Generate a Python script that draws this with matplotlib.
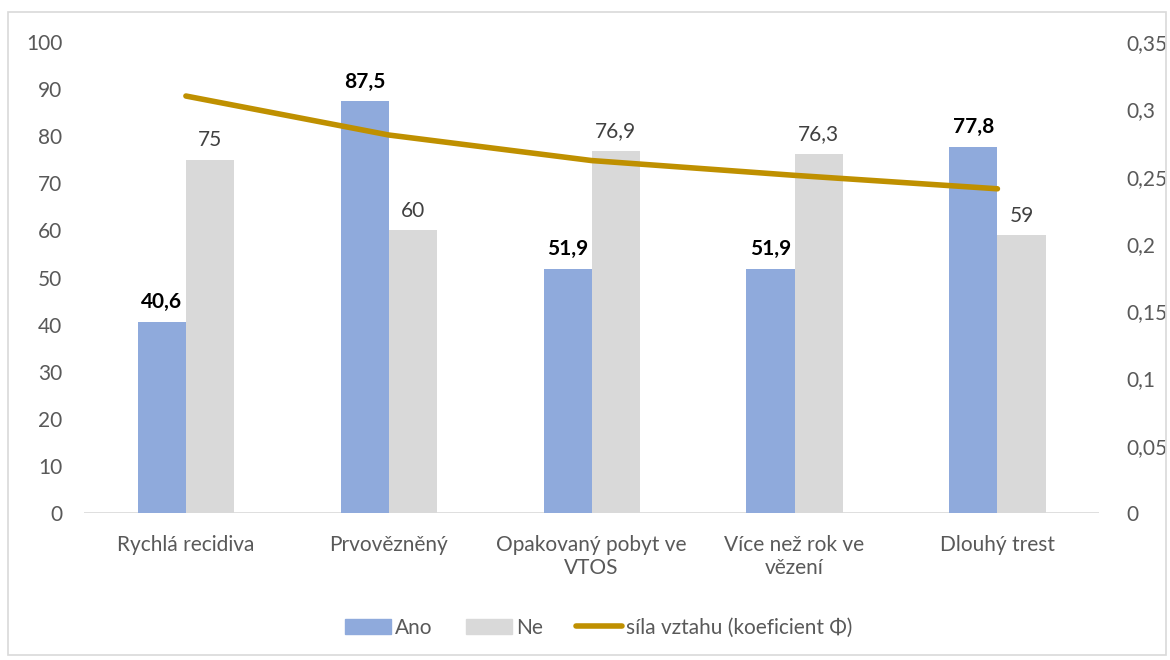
import numpy as np
import matplotlib
matplotlib.use('Agg')
import matplotlib.pyplot as plt
from matplotlib.patches import Rectangle
from matplotlib.lines import Line2D

plt.rcParams['font.family'] = ['Lato', 'DejaVu Sans']

categories = ['Rychlá recidiva', 'Prvovězněný', 'Opakovaný pobyt ve\nVTOS', 'Více než rok ve\nvězení', 'Dlouhý trest']
ano = [40.6, 87.5, 51.9, 51.9, 77.8]
ne = [75, 60, 76.9, 76.3, 59]
phi = [0.31, 0.281, 0.262, 0.251, 0.241]
left_ticks = list(range(0, 101, 10))
right_ticks = [0, 0.05, 0.1, 0.15, 0.2, 0.25, 0.3, 0.35]

c_ano = '#8faadc'
c_ne = '#d9d9d9'
c_line = '#bf9000'
c_text = '#595959'
fs = 15

fig = plt.figure(figsize=(11.7, 6.6), dpi=100)
ax = fig.add_axes([0.0722, 0.223, 0.867, 0.713])
ax2 = ax.twinx()

x = np.arange(len(categories))
w = 0.237
ax.bar(x - w/2, ano, w, color=c_ano, zorder=2)
ax.bar(x + w/2, ne, w, color=c_ne, zorder=2)

for xi, v in zip(x, ano):
    ax.text(xi - w/2, v + 2.0, ('%g' % v).replace('.', ','), ha='center', va='bottom',
            fontsize=fs, fontweight='bold', color='black')
for xi, v in zip(x, ne):
    ax.text(xi + w/2, v + 2.0, ('%g' % v).replace('.', ','), ha='center', va='bottom',
            fontsize=fs, color='#404040')

ax2.plot(x, phi, color=c_line, lw=4, solid_capstyle='round', zorder=3)

ax.set_xlim(-0.5, len(categories) - 0.5)
ax.set_ylim(0, 100)
ax2.set_ylim(0, 0.35)
ax.set_yticks(left_ticks)
ax.set_yticklabels([str(t) for t in left_ticks])
ax2.set_yticks(right_ticks)
ax2.set_yticklabels([('%g' % t).replace('.', ',') for t in right_ticks])
ax.set_xticks(x)
ax.set_xticklabels(categories)

for a in (ax, ax2):
    for s in a.spines.values():
        s.set_visible(False)
    a.tick_params(length=0, labelsize=fs, labelcolor=c_text)
ax.tick_params(axis='y', pad=16)
ax2.tick_params(axis='y', pad=20)
ax.tick_params(axis='x', pad=16)
ax.axhline(0, color='#d9d9d9', lw=1.2, zorder=1)

handles = [Rectangle((0, 0), 1, 1, color=c_ano), Rectangle((0, 0), 1, 1, color=c_ne),
           Line2D([0], [0], color=c_line, lw=4, solid_capstyle='round')]
fig.legend(handles, ['Ano', 'Ne', 'síla vztahu (koeficient Φ)'], loc='center',
           bbox_to_anchor=(0.512, 0.049), ncol=3, frameon=False, fontsize=fs,
           labelcolor=c_text, handlelength=2.2, handleheight=0.7, columnspacing=1.6, handletextpad=0.2)

fig.patches.append(Rectangle((0.007, 0.008), 0.99, 0.974, transform=fig.transFigure,
                             fill=False, edgecolor='#d9d9d9', lw=1.2))

fig.savefig('out.png', dpi=100)
